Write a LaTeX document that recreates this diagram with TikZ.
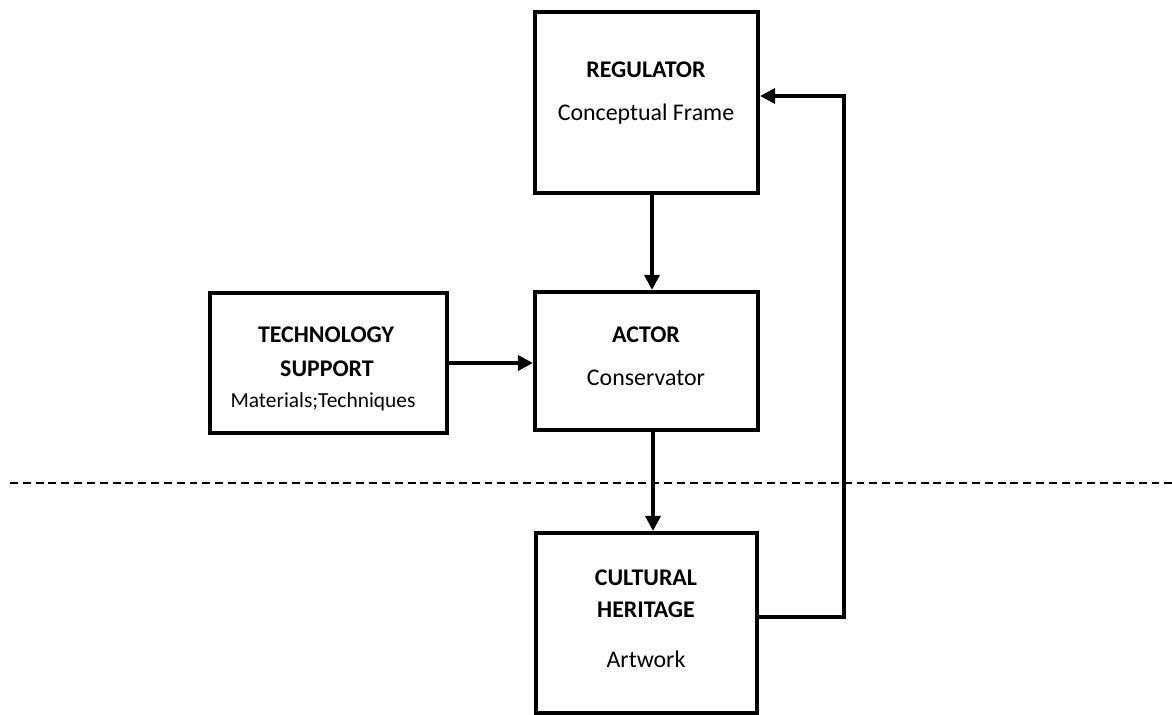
\documentclass[tikz,border=0pt]{standalone}
\usepackage{fontspec}
\setmainfont{Carlito}
\usetikzlibrary{arrows.meta}

\begin{document}
\begin{tikzpicture}[x=0.02cm, y=-0.02cm,
  box/.style={draw, line width=2.4pt, inner sep=0pt},
  flow/.style={line width=2pt, -{Triangle[length=8.5pt,width=8.5pt]}},
  txt/.style={anchor=base, font=\fontsize{13.6}{15}\selectfont},
  hd/.style={anchor=base, font=\fontsize{13.6}{15}\selectfont\bfseries}]
  \useasboundingbox (0,0) rectangle (1172,715);

  % blocks
  \node[box, minimum width=4.46cm, minimum height=3.62cm] (reg)   at (646.5,102.5) {};
  \node[box, minimum width=4.46cm, minimum height=2.76cm] (actor) at (646.5,361) {};
  \node[box, minimum width=4.74cm, minimum height=2.8cm]  (tech)  at (328.5,363) {};
  \node[box, minimum width=4.42cm, minimum height=3.6cm]  (cult)  at (646.5,623) {};

  % labels
  \node[hd]  (reghd)   at (646,78)  {REGULATOR};
  \node[txt] (regtx)   at (646,121) {Conceptual Frame};
  \node[hd]  (acthd)   at (646,343) {ACTOR};
  \node[txt] (acttx)   at (646,386) {Conservator};
  \node[hd]  (techhda) at (326,343) {TECHNOLOGY};
  \node[hd]  (techhdb) at (327,377) {SUPPORT};
  \node[txt, font=\fontsize{12.2}{14}\selectfont] (techtx) at (323,408) {Materials;Techniques};
  \node[hd]  (culthda) at (646,585) {CULTURAL};
  \node[hd]  (culthdb) at (646,617) {HERITAGE};
  \node[txt] (culttx)  at (646,667) {Artwork};

  % connectors
  \draw[flow] ([xshift=0.11cm]reg.south) -- ([xshift=0.11cm]actor.north);
  \draw[flow] (tech.east) -- (tech.east -| actor.west);
  \draw[flow] ([xshift=0.13cm]actor.south) -- ([xshift=0.13cm]cult.north);
  \coordinate (turn) at (844,96);
  \draw[flow] ([yshift=0.12cm]cult.east) -| (turn) -- (reg.east |- turn);

  % boundary
  \coordinate (dl) at (10,483);
  \coordinate (dr) at (1172,483);
  \draw[line width=0.8pt, dash pattern=on 4.5pt off 2.8pt] (dl) -- (dr);
\end{tikzpicture}
\end{document}
